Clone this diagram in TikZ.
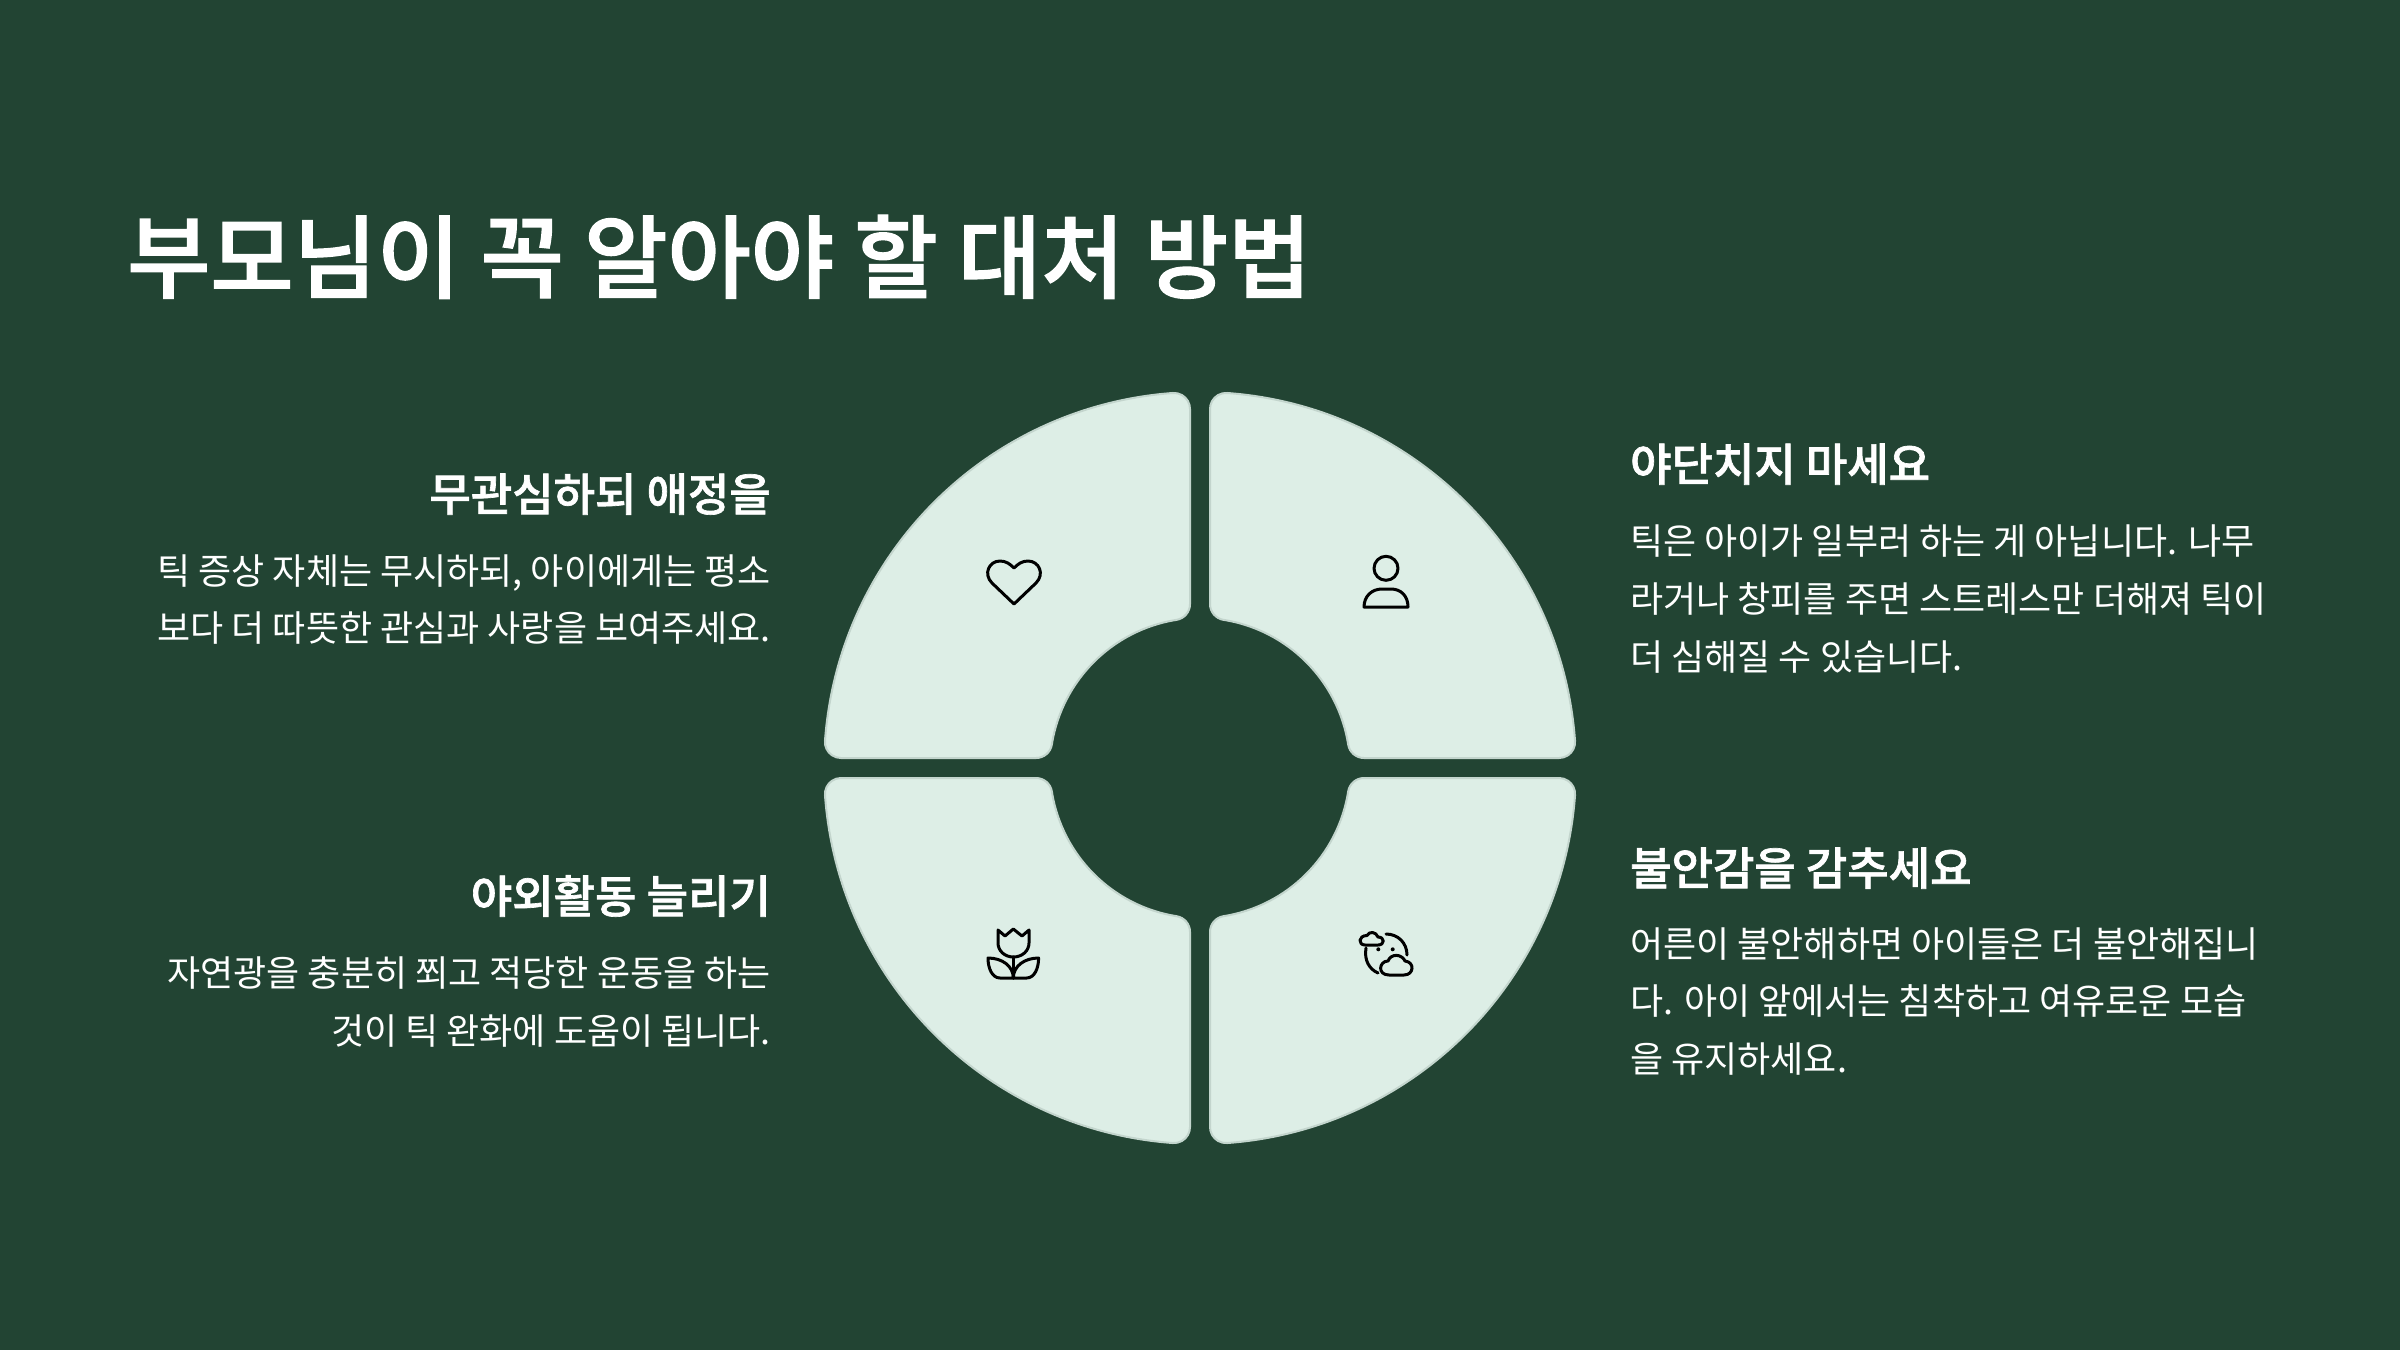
\documentclass[tikz,border=0pt]{standalone}
\usepackage{fontspec}
\setmainfont{Noto Sans CJK KR}
\newfontfamily\semif[FakeBold=1.5]{Noto Sans CJK KR Medium}
\definecolor{bgc}{HTML}{224433}
\definecolor{fillc}{HTML}{DDEEE6}
\definecolor{edgec}{HTML}{C3D5CD}
\tikzset{
 quadshape/.style={fill=fillc,draw=edgec,line width=2pt},
 icon/.style={draw=black,line width=3pt,line join=round,line cap=round},
 titletext/.style={text=white,inner sep=0pt,anchor=base west,font=\fontsize{90.5}{110}\semif},
 headtext/.style={text=white,inner sep=0pt,font=\fontsize{45}{56}\semif},
 bodytext/.style={text=white,inner sep=0pt,font=\fontsize{36}{58}\selectfont},
 quad/.pic={
  \path[quadshape] (10,359.06) arc[start angle=180,end angle=85.86,radius=16]
   arc[start angle=85.86,end angle=4.14,radius=376]
   arc[start angle=4.14,end angle=-90,radius=16]
   -- (163.95,10) arc[start angle=-90,end angle=-170.99,radius=16]
   arc[start angle=9.01,end angle=80.99,radius=150]
   arc[start angle=260.99,end angle=180,radius=16] -- cycle;
 }
}
\begin{document}
\begin{tikzpicture}[x=1pt,y=1pt]
\useasboundingbox (0,0) rectangle (2400,-1349.5);
\fill[bgc] (-5,5) rectangle (2405,-1355);
\begin{scope}[yscale=-1]
\pic[yscale=-1] at (1200,768) {quad};
\pic[xscale=-1,yscale=-1] at (1200,768) {quad};
\pic at (1200,768) {quad};
\pic[xscale=-1] at (1200,768) {quad};

\node[titletext] (title) at (127,291) {부모님이 꼭 알아야 할 대처 방법};

\node[headtext,anchor=base east] (h1) at (771,511) {무관심하되 애정을};
\node[bodytext,anchor=base east] (b1a) at (771,584) {틱 증상 자체는 무시하되, 아이에게는 평소};
\node[bodytext,anchor=base east] (b1b) at (771,641) {보다 더 따뜻한 관심과 사랑을 보여주세요.};

\node[headtext,anchor=base east] (h2) at (771,913) {야외활동 늘리기};
\node[bodytext,anchor=base east] (b2a) at (771,986) {자연광을 충분히 쬐고 적당한 운동을 하는};
\node[bodytext,anchor=base east] (b2b) at (771,1044) {것이 틱 완화에 도움이 됩니다.};

\node[headtext,anchor=base west] (h3) at (1630,481) {야단치지 마세요};
\node[bodytext,anchor=base west] (b3a) at (1630,554) {틱은 아이가 일부러 하는 게 아닙니다. 나무};
\node[bodytext,anchor=base west] (b3b) at (1630,612) {라거나 창피를 주면 스트레스만 더해져 틱이};
\node[bodytext,anchor=base west] (b3c) at (1630,670) {더 심해질 수 있습니다.};

\node[headtext,anchor=base west] (h4) at (1630,885) {불안감을 감추세요};
\node[bodytext,anchor=base west] (b4a) at (1630,957) {어른이 불안해하면 아이들은 더 불안해집니};
\node[bodytext,anchor=base west] (b4b) at (1630,1014) {다. 아이 앞에서는 침착하고 여유로운 모습};
\node[bodytext,anchor=base west] (b4c) at (1630,1072) {을 유지하세요.};

% heart
\path[icon] (1014,604) -- (992,583) .. controls (983,574) and (989,561) .. (1000,561)
 .. controls (1006,561) and (1010,564) .. (1014,568)
 .. controls (1018,564) and (1022,561) .. (1028,561)
 .. controls (1039,561) and (1045,574) .. (1036,583) -- cycle;
% person
\path[icon] (1386,568.3) circle[radius=12];
\path[icon] (1364,607) .. controls (1364,596) and (1372,589) .. (1382,589) -- (1391,589)
 .. controls (1401,589) and (1408,596) .. (1408,607) -- cycle;
% tulip
\path[icon] (998,930) -- (1005,936) -- (1013.3,929) -- (1022,936) -- (1029,930) -- (1029,943)
 .. controls (1029,951) and (1022,957) .. (1013.3,957)
 .. controls (1005,957) and (998,951) .. (998,943) -- cycle;
\path[icon] (1013.3,957) -- (1013.3,978);
\path[icon] (1013.3,978) -- (1000,978) .. controls (992,978) and (988,968) .. (988,958)
 .. controls (1002,958) and (1013.3,966) .. (1013.3,978);
\path[icon] (1013.3,978) -- (1026.6,978) .. controls (1034.6,978) and (1038.6,968) .. (1038.6,958)
 .. controls (1024.6,958) and (1013.3,966) .. (1013.3,978);
% moon and clouds
\path[icon] (1386,934) .. controls (1398,934) and (1407,943) .. (1407,955);
\path[icon] (1366,948) .. controls (1364,960) and (1369,969) .. (1378,973);
\fill (1378.3,949.3) circle[radius=2];
\fill (1392.7,949.3) circle[radius=2];
\path[icon] (1365,945) -- (1378,945) .. controls (1385,945) and (1385,937) .. (1378,937)
 .. controls (1376,931.5) and (1369,931) .. (1367,935.5)
 .. controls (1358,935.5) and (1358,945) .. (1365,945) -- cycle;
\path[icon] (1389,975) -- (1404,975) .. controls (1414,975) and (1415,962) .. (1405,961)
 .. controls (1402,954) and (1391,953) .. (1388,961)
 .. controls (1379,961) and (1377,975) .. (1389,975) -- cycle;
\end{scope}
\end{tikzpicture}
\end{document}
